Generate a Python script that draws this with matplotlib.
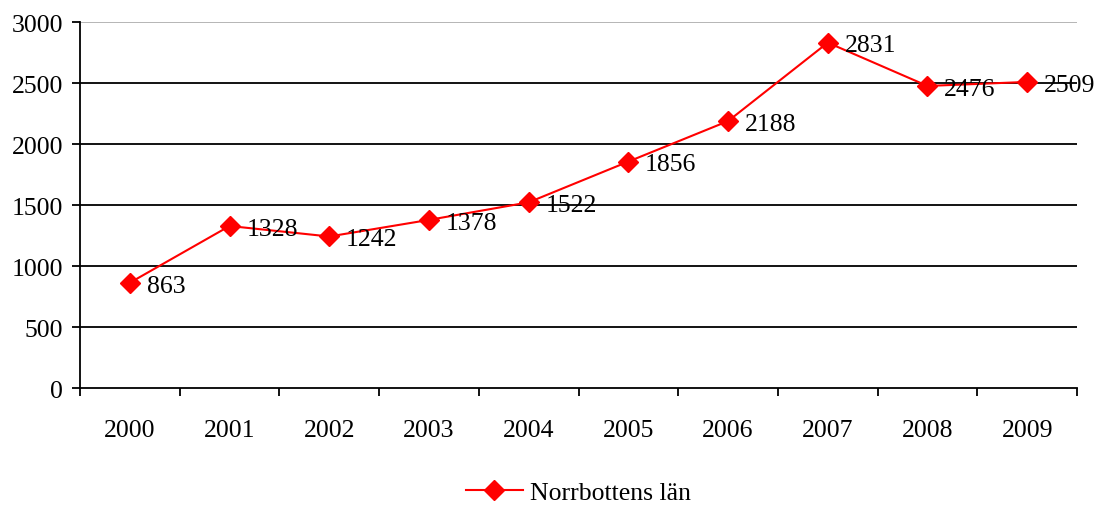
import matplotlib
matplotlib.use("Agg")
import matplotlib.pyplot as plt

years = ['2000', '2001', '2002', '2003', '2004', '2005', '2006', '2007', '2008', '2009']
values = [863, 1328, 1242, 1378, 1522, 1856, 2188, 2831, 2476, 2509]
series_name = 'Norrbottens län'

plt.rcParams['font.family'] = ['Liberation Serif', 'DejaVu Serif']
fs = 18.5

fig = plt.figure(figsize=(10.96, 5.06), dpi=100)
ax = fig.add_axes([0.073, 0.2312, 0.9097, 0.7233])

x = list(range(len(years)))
line, = ax.plot(x, values, color='#ff0000', lw=1.5, marker='D', markersize=10,
                markerfacecolor='#ff0000', markeredgecolor='#ff0000', zorder=3)

for xi, v in zip(x, values):
    ax.annotate(str(v), (xi, v), xytext=(12, -2), textcoords='offset points',
                ha='left', va='center', fontsize=fs)

ax.set_xlim(-0.5, len(years) - 0.5)
ax.set_ylim(0, 3000)
ax.set_yticks(range(0, 3001, 500))
for yv in range(500, 3000, 500):
    ax.axhline(yv, color='black', lw=1.3, zorder=1)
ax.axhline(3000, color='#b0b0b0', lw=1.3, zorder=1)

ax.set_xticks(x)
ax.set_xticklabels(years)
ax.set_xticks([i + 0.5 for i in range(-1, len(years))], minor=True)
ax.tick_params(axis='x', which='major', length=0, pad=22, labelsize=fs)
ax.tick_params(axis='x', which='minor', length=6, width=1.3, direction='out')
ax.tick_params(axis='y', length=6, width=1.3, direction='out', labelsize=fs, pad=6)

for side in ['top', 'right']:
    ax.spines[side].set_visible(False)
for side in ['left', 'bottom']:
    ax.spines[side].set_linewidth(1.3)

fig.legend([line], [series_name], loc='center', bbox_to_anchor=(0.528, 0.024),
           frameon=False, fontsize=fs, handlelength=2.2, handletextpad=0.3)

fig.savefig('out.png', dpi=100)
